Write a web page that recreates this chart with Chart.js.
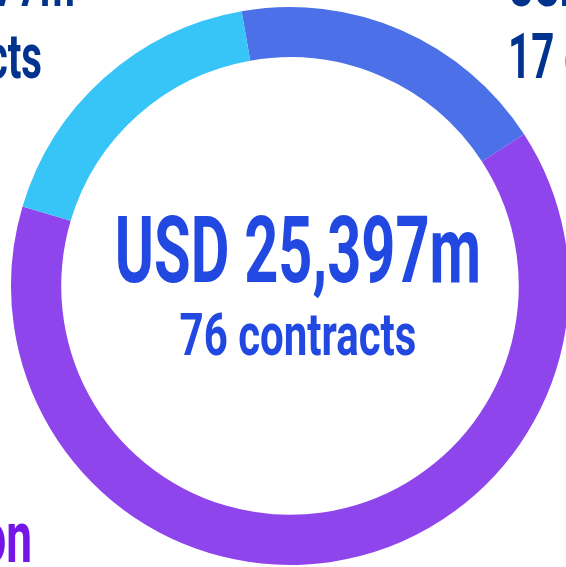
<!DOCTYPE html>
<html>
<head>
<meta charset="utf-8">
<script src="https://cdn.jsdelivr.net/npm/chart.js@4.4.0/dist/chart.umd.min.js"></script>
<style>
html, body { margin: 0; padding: 0; background: #fff; overflow: hidden; }
</style>
</head>
<body>
<canvas id="contracts-chart" width="566" height="567"></canvas>
<script>
// data
const categories = ['Transmission', 'Generation', 'Distribution'];
const valuesUsdM = [4729, 16191, 4477];
const contractCounts = [17, 44, 15];
const segmentColors = ['#4B70E7', '#8F45EC', '#37C5F7'];

const totalUsdM = valuesUsdM.reduce((a, b) => a + b, 0);
const totalContracts = contractCounts.reduce((a, b) => a + b, 0);

const fmt = (v) => 'USD ' + v.toLocaleString('en-US') + 'm';

// squeezed bold text, the original uses a condensed face
function squeezed(ctx, text, x, y, align, size, color, sx) {
    ctx.save();
    ctx.font = '700 ' + size + 'px Roboto';
    ctx.fillStyle = color;
    ctx.textAlign = align;
    ctx.textBaseline = 'alphabetic';
    ctx.translate(x, y);
    ctx.scale(sx, 1);
    ctx.fillText(text, 0, 0);
    ctx.restore();
}

const labelsPlugin = {
    id: 'labels',
    afterDraw(chart) {
        const ctx = chart.ctx;
        const navy = '#00338D';
        // center
        squeezed(ctx, fmt(totalUsdM), 298, 282, 'center', 93, '#2148E0', 0.64);
        squeezed(ctx, totalContracts + ' contracts', 298, 355, 'center', 60, '#2148E0', 0.7);
        // top right (blue)
        squeezed(ctx, fmt(valuesUsdM[0]), 508, 6, 'left', 63, navy, 0.64);
        squeezed(ctx, contractCounts[0] + ' contracts', 508, 78, 'left', 63, navy, 0.64);
        // top left (cyan)
        squeezed(ctx, fmt(valuesUsdM[2]), 75, 6, 'right', 63, navy, 0.64);
        squeezed(ctx, contractCounts[2] + ' contracts', 42, 78, 'right', 63, navy, 0.64);
        // bottom left (purple)
        squeezed(ctx, categories[1], 32, 562, 'right', 72, '#7515E8', 0.64);
    }
};

const ctx = document.getElementById('contracts-chart');
new Chart(ctx, {
    type: 'doughnut',
    data: {
        labels: categories,
        datasets: [{
            data: valuesUsdM,
            backgroundColor: segmentColors,
            borderWidth: 0,
            radius: 279,
            clip: false
        }]
    },
    options: {
        responsive: false,
        animation: false,
        rotation: -10,
        cutout: '82%',
        layout: { padding: { left: 14, right: 0, top: 5, bottom: 0 } },
        plugins: {
            legend: { display: false },
            tooltip: { enabled: false }
        }
    },
    plugins: [labelsPlugin]
});
</script>
</body>
</html>
